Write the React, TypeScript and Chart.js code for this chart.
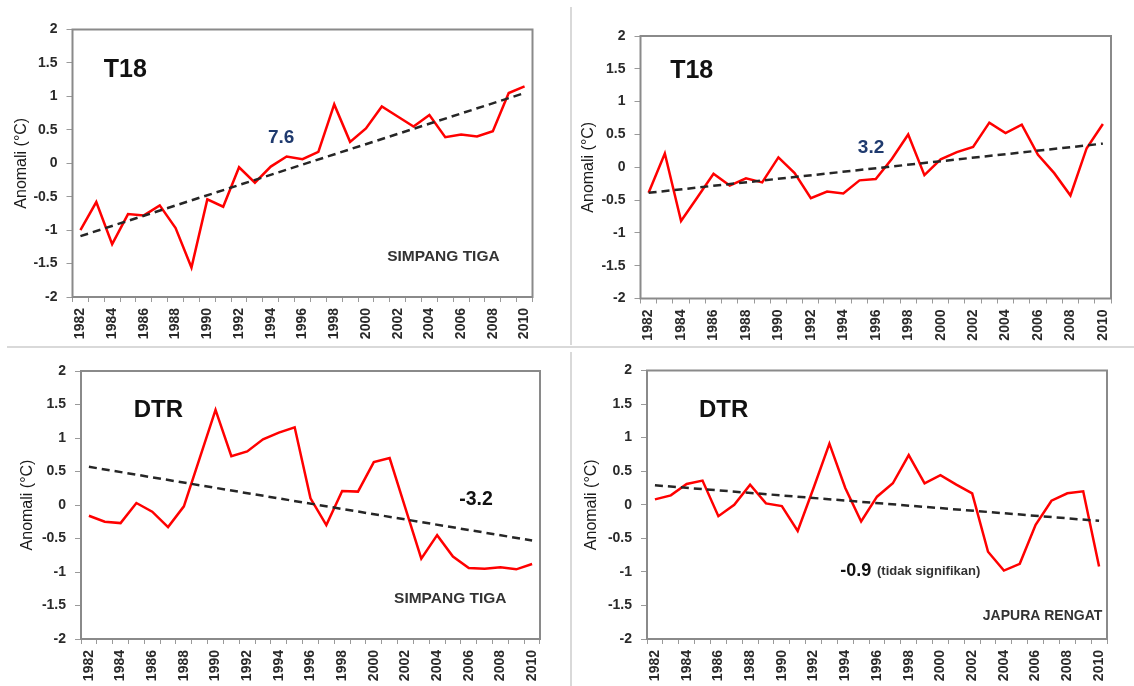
import React, { useEffect, useRef } from 'react';
import { Chart, registerables } from 'chart.js';

Chart.register(...registerables);

const years = ['1982','1983','1984','1985','1986','1987','1988','1989','1990','1991','1992','1993','1994','1995','1996','1997','1998','1999','2000','2001','2002','2003','2004','2005','2006','2007','2008','2009','2010'];

const t18SimpangTiga = [-1.0, -0.58, -1.21, -0.76, -0.78, -0.63, -0.97, -1.56, -0.54, -0.65, -0.06, -0.29, -0.05, 0.10, 0.06, 0.17, 0.88, 0.32, 0.52, 0.85, 0.70, 0.55, 0.72, 0.39, 0.43, 0.40, 0.48, 1.05, 1.15];
const t18Right = [-0.39, 0.21, -0.82, -0.46, -0.10, -0.28, -0.17, -0.23, 0.15, -0.09, -0.47, -0.37, -0.40, -0.20, -0.18, 0.13, 0.50, -0.12, 0.12, 0.23, 0.31, 0.68, 0.52, 0.65, 0.19, -0.09, -0.43, 0.29, 0.66];
const dtrSimpangTiga = [-0.16, -0.25, -0.27, 0.03, -0.10, -0.33, -0.02, 0.70, 1.42, 0.73, 0.80, 0.98, 1.08, 1.16, 0.10, -0.30, 0.21, 0.20, 0.64, 0.70, -0.05, -0.80, -0.45, -0.77, -0.94, -0.95, -0.93, -0.96, -0.88];
const dtrJapuraRengat = [0.08, 0.14, 0.31, 0.36, -0.17, 0.0, 0.30, 0.02, -0.02, -0.39, 0.25, 0.91, 0.25, -0.25, 0.12, 0.32, 0.74, 0.32, 0.44, 0.30, 0.17, -0.70, -0.98, -0.88, -0.30, 0.06, 0.17, 0.20, -0.92];

// trend lines: [value at 1982, value at 2010]
const trendT18SimpangTiga = [-1.09, 1.05];
const trendT18Right = [-0.39, 0.36];
const trendDtrSimpangTiga = [0.57, -0.53];
const trendDtrJapuraRengat = [0.29, -0.24];

const yMin = -2;
const yMax = 2;
const yStep = 0.5;

const FONT = '"Liberation Sans", Arial, sans-serif';

type Note = { text: string; fx: number; fy: number; size: number; color: string; weight?: string };

type PanelProps = {
  left: number; top: number; width: number; height: number;
  area: { l: number; t: number; r: number; b: number };
  series: number[];
  trend: number[];
  notes: Note[];
  titleCenter: number;
};

function Panel(p: PanelProps) {
  const ref = useRef<HTMLCanvasElement>(null);
  useEffect(() => {
    const yWidth = p.area.l - p.left;
    const xHeight = p.top + p.height - p.area.b;
    const padTop = p.area.t - p.top;
    const padRight = p.left + p.width - p.area.r;
    const titleFontSize = 16;
    const titlePad = (p.titleCenter - p.left) - (titleFontSize * 1.2) / 2;

    const framePlugin = {
      id: 'frame',
      afterDraw(chart: any) {
        const { ctx, chartArea: a } = chart;
        ctx.save();
        ctx.strokeStyle = '#8a8a8a';
        ctx.lineWidth = 2;
        ctx.strokeRect(a.left, a.top, a.right - a.left, a.bottom - a.top);
        ctx.restore();
      },
    };
    const notesPlugin = {
      id: 'notes',
      afterDraw(chart: any) {
        const { ctx, chartArea: a } = chart;
        ctx.save();
        ctx.textAlign = 'left';
        ctx.textBaseline = 'alphabetic';
        for (const n of p.notes) {
          ctx.font = `${n.weight || 'bold'} ${n.size}px ${FONT}`;
          ctx.fillStyle = n.color;
          ctx.fillText(n.text, a.left + n.fx * (a.right - a.left), a.top + n.fy * (a.bottom - a.top));
        }
        ctx.restore();
      },
    };

    const chart = new Chart(ref.current as HTMLCanvasElement, {
      type: 'line',
      data: {
        labels: years,
        datasets: [
          {
            data: [{ x: years[0], y: p.trend[0] }, { x: years[years.length - 1], y: p.trend[1] }] as any,
            borderColor: '#262626',
            borderWidth: 2.5,
            borderDash: [8, 5],
            pointRadius: 0,
            fill: false,
            order: 0,
          },
          {
            data: p.series,
            borderColor: '#ff0000',
            borderWidth: 2.5,
            pointRadius: 0,
            fill: false,
            tension: 0,
            order: 1,
          },
        ],
      },
      options: {
        animation: false,
        responsive: false,
        maintainAspectRatio: false,
        layout: { padding: { top: padTop, right: padRight, left: 0, bottom: 0 } },
        plugins: { legend: { display: false }, tooltip: { enabled: false } },
        scales: {
          x: {
            type: 'category',
            offset: true,
            border: { display: false },
            grid: { offset: true, drawOnChartArea: false, drawTicks: true, tickLength: 5, color: '#9a9a9a' },
            ticks: {
              autoSkip: false,
              minRotation: 90,
              maxRotation: 90,
              padding: 6,
              color: '#2a2a2a',
              font: { family: FONT, size: 14, weight: 'bold' },
              callback: (_v: any, i: number) => (i % 2 === 0 ? years[i] : ''),
            },
            afterFit: (s: any) => { s.height = xHeight; },
          },
          y: {
            min: yMin,
            max: yMax,
            border: { display: false },
            grid: { drawOnChartArea: false, drawTicks: true, tickLength: 6, color: '#9a9a9a' },
            ticks: {
              stepSize: yStep,
              padding: 9,
              color: '#2a2a2a',
              font: { family: FONT, size: 14, weight: 'bold' },
              callback: (v: any) => String(v),
            },
            title: {
              display: true,
              text: 'Anomali (°C)',
              color: '#1a1a1a',
              font: { family: FONT, size: titleFontSize },
              padding: { top: titlePad, bottom: 0 },
            },
            afterFit: (s: any) => { s.width = yWidth; },
          },
        },
      } as any,
      plugins: [framePlugin, notesPlugin],
    });
    return () => chart.destroy();
  }, []);
  return (
    <canvas
      ref={ref}
      width={p.width}
      height={p.height}
      style={{ position: 'absolute', left: p.left, top: p.top, width: p.width, height: p.height }}
    />
  );
}

const sep = '#d9d9d9';

export default function App() {
  return (
    <div style={{ position: 'absolute', left: 0, top: 0, width: 1134, height: 686, background: '#fff', overflow: 'hidden' }}>
      <Panel
        left={0} top={0} width={568} height={345}
        area={{ l: 72.5, t: 29.5, r: 532.5, b: 297 }}
        series={t18SimpangTiga}
        trend={trendT18SimpangTiga}
        titleCenter={22}
        notes={[
          { text: 'T18', fx: 0.068, fy: 0.178, size: 25, color: '#111' },
          { text: '7.6', fx: 0.425, fy: 0.424, size: 19, color: '#1f3a6e' },
          { text: 'SIMPANG TIGA', fx: 0.684, fy: 0.865, size: 15.5, color: '#333' },
        ]}
      />
      <Panel
        left={572} top={0} width={562} height={345}
        area={{ l: 640.5, t: 36, r: 1111, b: 298.5 }}
        series={t18Right}
        trend={trendT18Right}
        titleCenter={589}
        notes={[
          { text: 'T18', fx: 0.063, fy: 0.16, size: 25, color: '#111' },
          { text: '3.2', fx: 0.462, fy: 0.446, size: 19, color: '#1f3a6e' },
        ]}
      />
      <Panel
        left={0} top={349} width={568} height={337}
        area={{ l: 81, t: 371, r: 540, b: 639 }}
        series={dtrSimpangTiga}
        trend={trendDtrSimpangTiga}
        titleCenter={28}
        notes={[
          { text: 'DTR', fx: 0.115, fy: 0.172, size: 24, color: '#111' },
          { text: '-3.2', fx: 0.824, fy: 0.5, size: 19.5, color: '#111' },
          { text: 'SIMPANG TIGA', fx: 0.682, fy: 0.866, size: 15.5, color: '#333' },
        ]}
      />
      <Panel
        left={572} top={349} width={562} height={337}
        area={{ l: 647, t: 370.5, r: 1107, b: 639 }}
        series={dtrJapuraRengat}
        trend={trendDtrJapuraRengat}
        titleCenter={592}
        notes={[
          { text: 'DTR', fx: 0.113, fy: 0.173, size: 24, color: '#111' },
          { text: '-0.9', fx: 0.42, fy: 0.765, size: 18, color: '#111' },
          { text: '(tidak signifikan)', fx: 0.5, fy: 0.763, size: 13, color: '#333' },
          { text: 'JAPURA RENGAT', fx: 0.73, fy: 0.929, size: 14, color: '#333' },
        ]}
      />
      <div style={{ position: 'absolute', left: 7, top: 346, width: 1127, height: 1.5, background: sep }} />
      <div style={{ position: 'absolute', left: 570, top: 7, width: 1.5, height: 338, background: sep }} />
      <div style={{ position: 'absolute', left: 570, top: 352, width: 1.5, height: 334, background: sep }} />
    </div>
  );
}
